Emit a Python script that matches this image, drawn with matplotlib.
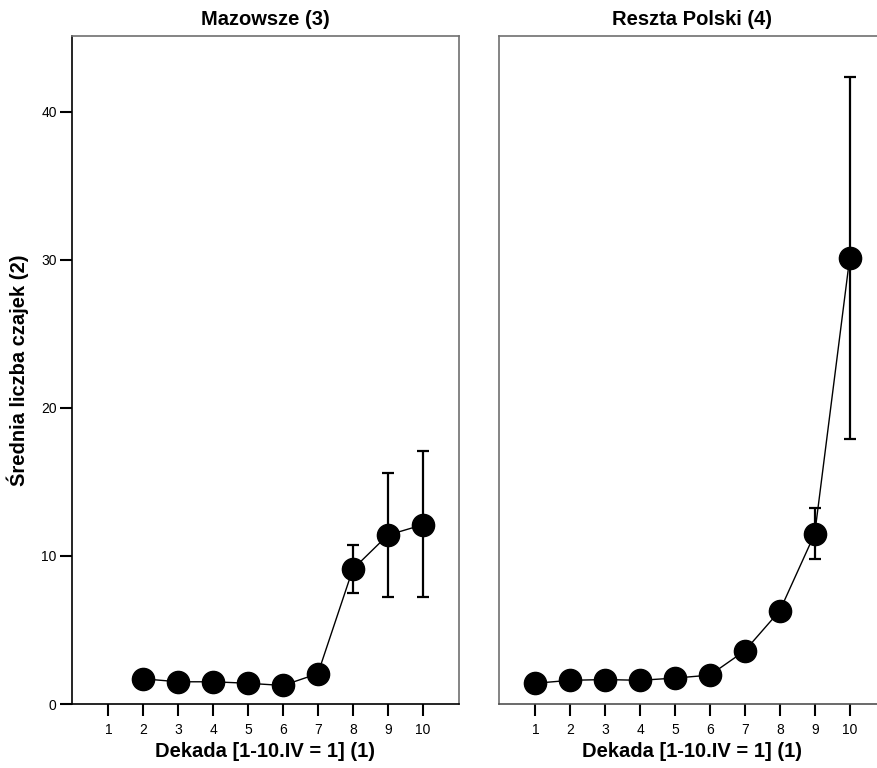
import numpy as np
import matplotlib
matplotlib.use('Agg')
import matplotlib.pyplot as plt

plt.rcParams['font.family'] = ['Liberation Sans', 'DejaVu Sans']

# Mazowsze (3)
maz_x = [2, 3, 4, 5, 6, 7, 8, 9, 10]
maz_y = [1.7, 1.5, 1.5, 1.4, 1.25, 2.05, 9.1, 11.4, 12.1]
maz_lo = [np.nan] * 6 + [7.5, 7.25, 7.2]
maz_hi = [np.nan] * 6 + [10.75, 15.6, 17.1]

# Reszta Polski (4)
rp_x = [1, 2, 3, 4, 5, 6, 7, 8, 9, 10]
rp_y = [1.4, 1.6, 1.65, 1.6, 1.75, 1.95, 3.6, 6.3, 11.5, 30.1]
rp_lo = [np.nan] * 8 + [9.8, 17.9]
rp_hi = [np.nan] * 8 + [13.2, 42.3]

titles = ['Mazowsze (3)', 'Reszta Polski (4)']
xlabel = 'Dekada [1-10.IV = 1] (1)'
ylabel = 'Średnia liczba czajek (2)'
xticks = list(range(1, 11))
yticks = [0, 10, 20, 30, 40]

fig = plt.figure(figsize=(8.78, 7.68), dpi=100)
w, h = 387 / 878, 668 / 768
b = 64 / 768
ax1 = fig.add_axes([72 / 878, b, w, h])
ax2 = fig.add_axes([499 / 878, b, w, h])

panels = [(ax1, maz_x, maz_y, maz_lo, maz_hi),
          (ax2, rp_x, rp_y, rp_lo, rp_hi)]

for i, (ax, x, y, lo, hi) in enumerate(panels):
    x = np.array(x)
    y = np.array(y)
    lo = np.array(lo)
    hi = np.array(hi)
    m = ~np.isnan(lo)
    ax.errorbar(x[m], y[m], yerr=[y[m] - lo[m], hi[m] - y[m]], fmt='none',
                ecolor='black', elinewidth=1.6, capsize=4.5, capthick=1.6,
                zorder=2)
    ax.plot(x, y, '-', color='black', lw=1.0, zorder=3)
    ax.plot(x, y, 'o', color='black', ms=16, zorder=4)

    ax.set_xlim(-0.04, 11.04)
    ax.set_ylim(0, 45.1)
    ax.set_xticks(xticks)
    ax.set_xticklabels([str(t) for t in xticks], fontsize=10)
    ax.tick_params(axis='x', direction='out', length=8.5, width=1.5,
                   pad=5, color='black')
    for s in ax.spines.values():
        s.set_color('#707070')
        s.set_linewidth(1.2)
    ax.set_title(titles[i], fontsize=14.5, fontweight='bold', pad=8)
    ax.set_xlabel(xlabel, fontsize=14.5, fontweight='bold', labelpad=4)

ax1.set_yticks(yticks)
ax1.set_yticklabels([str(t) for t in yticks], fontsize=10)
ax1.tick_params(axis='y', direction='out', length=9, width=1.5, pad=2,
                color='black')
ax1.spines['left'].set_color('black')
ax1.spines['bottom'].set_color('black')
ax1.set_ylabel(ylabel, fontsize=14.5, fontweight='bold', labelpad=9)
ax2.set_yticks([])
ax2.spines['bottom'].set_color('#505050')

fig.savefig('out.png', dpi=100)
